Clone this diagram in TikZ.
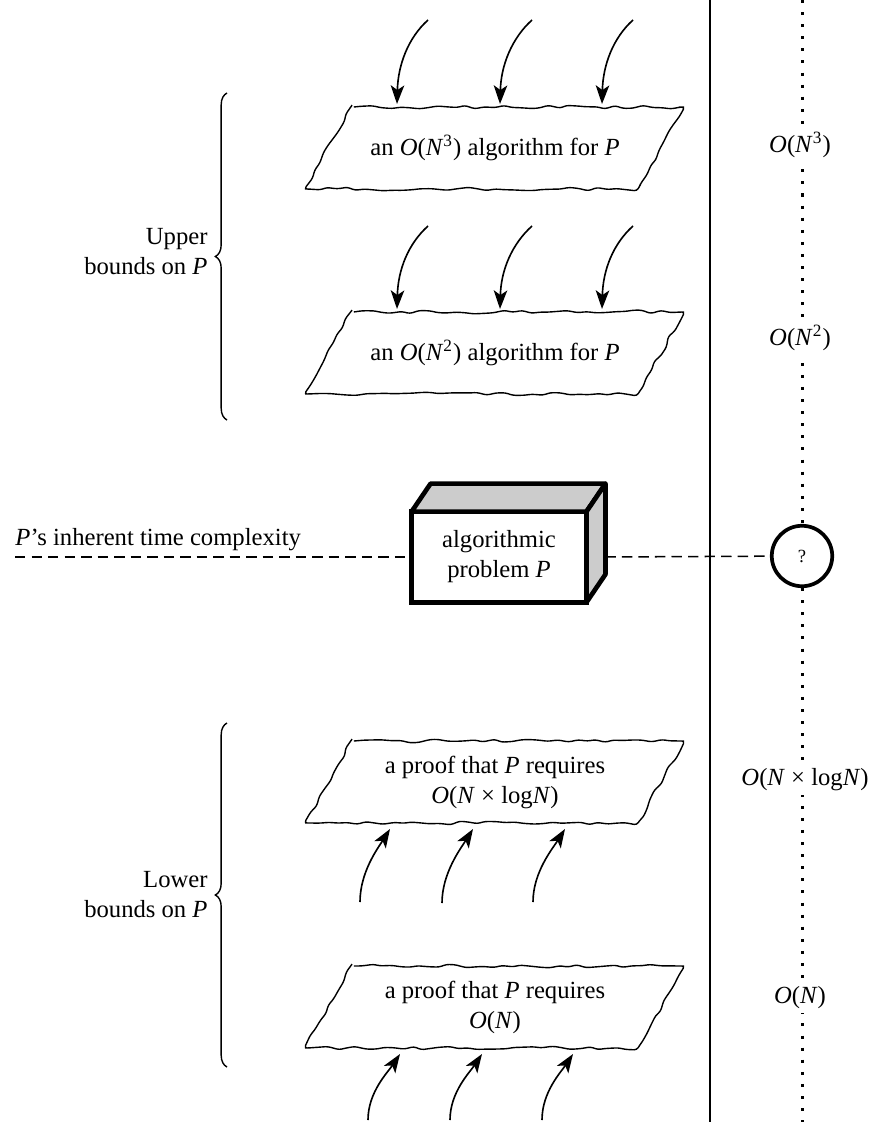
\documentclass[tikz,border=0pt]{standalone}
\usepackage{fontspec}
\setmainfont{Liberation Serif}
\usetikzlibrary{arrows.meta,decorations.pathmorphing,decorations.pathreplacing}

\begin{document}
\begin{tikzpicture}[
    x=0.43pt, y=-0.43pt,
    every node/.style={font=\fontsize{10.6pt}{12.9pt}\selectfont},
    sheet/.style={draw, line width=0.6pt, decorate, decoration={random steps, segment length=4pt, amplitude=0.8pt}, rounded corners=1.2pt},
    arrow/.style={-{Stealth[length=8pt, width=5.8pt, inset=2pt]}, line width=0.7pt},
    bound/.style={fill=white, inner sep=1.5pt},
    dashline/.style={line width=0.65pt, dash pattern=on 4.5pt off 2.6pt},
    dotline/.style={line width=1.3pt, dash pattern=on 1.3pt off 3.9pt},
    brace/.style={decorate, decoration={brace, amplitude=5pt}, line width=0.6pt}
]
\useasboundingbox (0,0) rectangle (868,1127);
\pgfmathsetseed{3}

% the two vertical scales
\coordinate (st) at (710,0);
\coordinate (sb) at (710,1122);
\coordinate (dt) at (802,0);
\coordinate (db) at (802,1122);
\node[circle, draw, line width=1.6pt, minimum size=26pt, inner sep=0pt, font=\footnotesize] (q) at (802,556) {?};
\draw[line width=0.8pt] (st) -- (sb);
\draw[dotline] (dt) -- (q);
\draw[dotline] (q) -- (db);
\node[bound] (b3) at (800,145) {\textit{O}(\textit{N}\textsuperscript{3})};
\node[bound] (b2) at (800,338) {\textit{O}(\textit{N}\textsuperscript{2})};
\node[bound] (bnl) at (805,780) {\textit{O}(\textit{N} × log\textit{N})};
\node[bound] (bn) at (800,998) {\textit{O}(\textit{N})};

% upper bounds
\node (alg3) at (495,148) {an \textit{O}(\textit{N}\textsuperscript{3}) algorithm for \textit{P}};
\draw[sheet] ([shift={(-144,-41)}]alg3.center) -- ++(333,0) -- ++(-46,82) -- ++(-333,0) -- cycle;
\node (alg2) at (495,353) {an \textit{O}(\textit{N}\textsuperscript{2}) algorithm for \textit{P}};
\draw[sheet] ([shift={(-144,-41)}]alg2.center) -- ++(333,0) -- ++(-46,82) -- ++(-333,0) -- cycle;

\coordinate (a1) at (428,20);  \coordinate (e1) at (397,104);
\coordinate (a2) at (532,20);  \coordinate (e2) at (500,104);
\coordinate (a3) at (633,20);  \coordinate (e3) at (602,104);
\coordinate (a4) at (428,226); \coordinate (e4) at (397,309);
\coordinate (a5) at (532,226); \coordinate (e5) at (500,309);
\coordinate (a6) at (633,226); \coordinate (e6) at (602,309);
\draw[arrow] (a1) .. controls +(-20,18) and +(1,-39) .. (e1);
\draw[arrow] (a2) .. controls +(-20,18) and +(1,-39) .. (e2);
\draw[arrow] (a3) .. controls +(-20,18) and +(1,-39) .. (e3);
\draw[arrow] (a4) .. controls +(-20,18) and +(1,-39) .. (e4);
\draw[arrow] (a5) .. controls +(-20,18) and +(1,-39) .. (e5);
\draw[arrow] (a6) .. controls +(-20,18) and +(1,-39) .. (e6);

\coordinate (ub1) at (227,420);
\coordinate (ub2) at (227,93);
\draw[brace] (ub1) -- (ub2);
\node[anchor=east, align=right, inner sep=0pt] (up) at (208,252) {Upper\\bounds on \textit{P}};

% the problem itself
\node[draw, line width=2pt, outer sep=0pt, minimum width=75.2pt, minimum height=39pt, align=center] (prob) at (499,557) {algorithmic\\problem \textit{P}};
\draw[line width=2pt, line join=round, fill=gray!40] (prob.north west) -- ++(19,-28) -- ([shift={(19,-28)}]prob.north east) -- (prob.north east) -- cycle;
\draw[line width=2pt, line join=round, fill=gray!40] (prob.north east) -- ++(19,-28) -- ([shift={(19,-28)}]prob.south east) -- (prob.south east) -- cycle;
\coordinate (dl) at (15,557);
\draw[dashline] (dl) -- (prob.west);
\draw[dashline] ([shift={(19,0)}]prob.east) -- (q);
\node[anchor=base west, inner sep=0pt] (inh) at (15,545) {\textit{P}’s inherent time complexity};

% lower bounds
\node[align=center] (prf1) at (495,782) {a proof that \textit{P} requires\\\textit{O}(\textit{N} × log\textit{N})};
\draw[sheet] ([shift={(-144,-41)}]prf1.center) -- ++(333,0) -- ++(-46,82) -- ++(-333,0) -- cycle;
\node[align=center] (prf0) at (495,1007) {a proof that \textit{P} requires\\\textit{O}(\textit{N})};
\draw[sheet] ([shift={(-144,-41)}]prf0.center) -- ++(333,0) -- ++(-46,82) -- ++(-333,0) -- cycle;

\coordinate (c1) at (360,902);  \coordinate (f1) at (390,829);
\coordinate (c2) at (442,903);  \coordinate (f2) at (473,829);
\coordinate (c3) at (533,902);  \coordinate (f3) at (565,829);
\coordinate (c4) at (368,1120); \coordinate (f4) at (400,1054);
\coordinate (c5) at (450,1120); \coordinate (f5) at (482,1054);
\coordinate (c6) at (542,1120); \coordinate (f6) at (573,1054);
\draw[arrow] (c1) .. controls +(0,-30) and +(-12,19) .. (f1);
\draw[arrow] (c2) .. controls +(0,-30) and +(-12,19) .. (f2);
\draw[arrow] (c3) .. controls +(0,-30) and +(-12,19) .. (f3);
\draw[arrow] (c4) .. controls +(0,-28) and +(-12,18) .. (f4);
\draw[arrow] (c5) .. controls +(0,-28) and +(-12,18) .. (f5);
\draw[arrow] (c6) .. controls +(0,-28) and +(-12,18) .. (f6);

\coordinate (lb1) at (227,1067);
\coordinate (lb2) at (227,723);
\draw[brace] (lb1) -- (lb2);
\node[anchor=east, align=right, inner sep=0pt] (low) at (208,895) {Lower\\bounds on \textit{P}};
\end{tikzpicture}
\end{document}
